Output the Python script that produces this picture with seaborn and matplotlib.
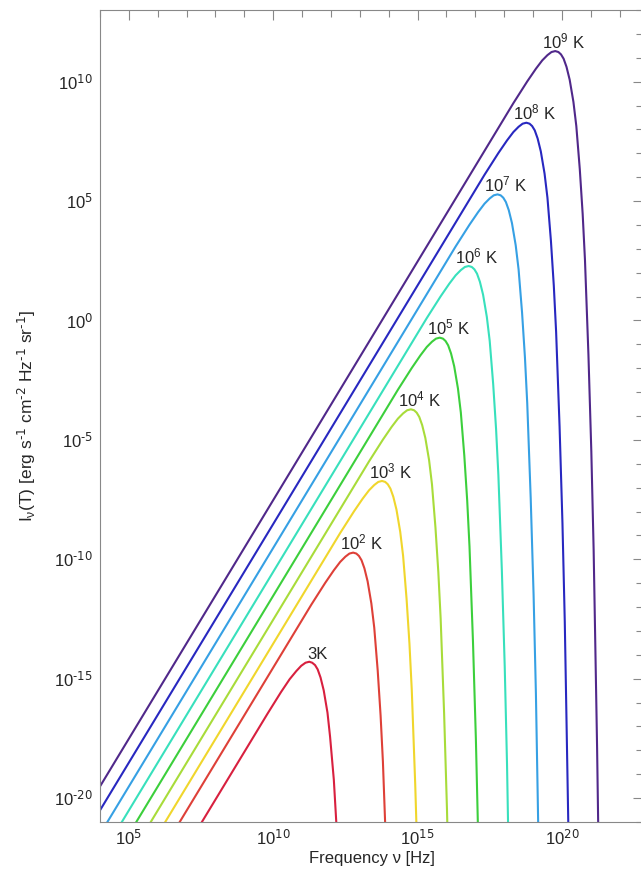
import numpy as np
import pandas as pd
import matplotlib
matplotlib.use("Agg")
import matplotlib.pyplot as plt
import seaborn as sns
from matplotlib.ticker import FixedLocator, NullFormatter

# curve labels and colours (coldest to hottest)
temp_labels = ["3K", "10$^2$ K", "10$^3$ K", "10$^4$ K", "10$^5$ K",
               "10$^6$ K", "10$^7$ K", "10$^8$ K", "10$^9$ K"]
curve_colors = ["#d8203f", "#de4038", "#f0d62c", "#a8dc3a", "#3ccf3c",
                "#38e0bc", "#36a0e4", "#2828c0", "#50288a"]

# axis tick exponents (labelled decades)
x_tick_exp = [5, 10, 15, 20]
y_tick_exp = [-20, -15, -10, -5, 0, 5, 10]

# log10 frequency [Hz] / log10 intensity
lg_nu_3 = [3.90, 9.80, 10.27, 10.57, 10.80, 10.97, 11.12, 11.25, 11.35, 11.45, 11.54,
           11.64, 11.75, 11.88, 11.97, 12.10, 12.19, 12.27]
lg_I_3 = [-28.24, -16.47, -15.56, -15.02, -14.68, -14.46, -14.33, -14.29, -14.33, -14.43,
          -14.61, -14.95, -15.49, -16.42, -17.43, -19.23, -21.11, -23.04]

lg_nu_1e2 = [3.90, 11.32, 11.80, 12.10, 12.32, 12.50, 12.64, 12.77, 12.88, 12.97, 13.06,
             13.16, 13.27, 13.40, 13.50, 13.62, 13.72, 13.80, 13.92]
lg_I_1e2 = [-26.71, -11.90, -10.99, -10.46, -10.11, -9.89, -9.76, -9.72, -9.76, -9.86,
            -10.04, -10.38, -10.92, -11.85, -12.86, -14.66, -16.54, -18.47, -22.44]

lg_nu_1e3 = [3.90, 12.32, 12.80, 13.10, 13.32, 13.50, 13.64, 13.77, 13.88, 13.97, 14.06,
             14.16, 14.27, 14.40, 14.50, 14.62, 14.72, 14.80, 14.92, 15.02]
lg_I_1e3 = [-25.71, -8.90, -7.99, -7.46, -7.11, -6.89, -6.76, -6.72, -6.76, -6.86,
            -7.04, -7.38, -7.92, -8.85, -9.86, -11.66, -13.54, -15.47, -19.44, -23.49]

lg_nu_1e4 = [3.90, 13.32, 13.80, 14.10, 14.32, 14.50, 14.64, 14.77, 14.88, 14.97, 15.06,
             15.16, 15.27, 15.40, 15.50, 15.62, 15.72, 15.80, 15.92, 16.02, 16.10]
lg_I_1e4 = [-24.71, -5.90, -4.99, -4.46, -4.11, -3.89, -3.76, -3.72, -3.76, -3.86,
            -4.04, -4.38, -4.92, -5.85, -6.86, -8.66, -10.54, -12.47, -16.44, -20.49, -24.60]

lg_nu_1e5 = [3.90, 14.32, 14.80, 15.10, 15.32, 15.50, 15.64, 15.77, 15.88, 15.97, 16.06,
             16.16, 16.27, 16.40, 16.50, 16.62, 16.72, 16.80, 16.92, 17.02, 17.10]
lg_I_1e5 = [-23.71, -2.90, -1.99, -1.46, -1.11, -0.89, -0.76, -0.72, -0.76, -0.86,
            -1.04, -1.38, -1.92, -2.85, -3.86, -5.66, -7.54, -9.47, -13.44, -17.49, -21.60]

lg_nu_1e6 = [3.90, 15.32, 15.80, 16.10, 16.32, 16.50, 16.64, 16.77, 16.88, 16.97, 17.06,
             17.16, 17.27, 17.40, 17.50, 17.62, 17.72, 17.80, 17.92, 18.02, 18.10, 18.16]
lg_I_1e6 = [-22.71, 0.10, 1.01, 1.54, 1.89, 2.11, 2.24, 2.28, 2.24, 2.14,
            1.96, 1.62, 1.08, 0.15, -0.86, -2.66, -4.54, -6.47, -10.44, -14.49, -18.60, -22.74]

lg_nu_1e7 = [3.90, 16.32, 16.80, 17.10, 17.32, 17.50, 17.64, 17.77, 17.88, 17.97, 18.06,
             18.16, 18.27, 18.40, 18.50, 18.62, 18.72, 18.80, 18.92, 19.02, 19.10, 19.16, 19.22]
lg_I_1e7 = [-21.71, 3.10, 4.01, 4.54, 4.89, 5.11, 5.24, 5.28, 5.24, 5.14,
            4.96, 4.62, 4.08, 3.15, 2.14, 0.34, -1.54, -3.47, -7.44, -11.49, -15.60, -19.74, -23.91]

lg_nu_1e8 = [3.90, 17.32, 17.80, 18.10, 18.32, 18.50, 18.64, 18.77, 18.88, 18.97, 19.06,
             19.16, 19.27, 19.40, 19.50, 19.62, 19.72, 19.80, 19.92, 20.02, 20.10, 20.16, 20.22, 20.27]
lg_I_1e8 = [-20.71, 6.10, 7.01, 7.54, 7.89, 8.11, 8.24, 8.28, 8.24, 8.14,
            7.96, 7.62, 7.08, 6.15, 5.14, 3.34, 1.46, -0.47, -4.44, -8.49, -12.60, -16.74, -20.91, -25.10]

lg_nu_1e9 = [3.90, 18.32, 18.80, 19.10, 19.32, 19.50, 19.64, 19.77, 19.88, 19.97, 20.06,
             20.16, 20.27, 20.40, 20.50, 20.62, 20.72, 20.80, 20.92, 21.02, 21.10, 21.16, 21.22, 21.27]
lg_I_1e9 = [-19.71, 9.10, 10.01, 10.54, 10.89, 11.11, 11.24, 11.28, 11.24, 11.14,
            10.96, 10.62, 10.08, 9.15, 8.14, 6.34, 4.46, 2.53, -1.44, -5.49, -9.60, -13.74, -17.91, -22.10]

curves = [(lg_nu_3, lg_I_3), (lg_nu_1e2, lg_I_1e2), (lg_nu_1e3, lg_I_1e3),
          (lg_nu_1e4, lg_I_1e4), (lg_nu_1e5, lg_I_1e5), (lg_nu_1e6, lg_I_1e6),
          (lg_nu_1e7, lg_I_1e7), (lg_nu_1e8, lg_I_1e8), (lg_nu_1e9, lg_I_1e9)]

frames = []
for lab, (nu, inten) in zip(temp_labels, curves):
    frames.append(pd.DataFrame({"freq": np.power(10.0, nu),
                                "intensity": np.power(10.0, inten),
                                "temp": lab}))
df = pd.concat(frames, ignore_index=True)

sns.set_style("white")
plt.rcParams["font.family"] = ["Liberation Sans", "DejaVu Sans"]
plt.rcParams["mathtext.default"] = "regular"
plt.rcParams["axes.unicode_minus"] = False

fig = plt.figure(figsize=(6.41, 8.74), dpi=100)
# right spine falls just outside the picture, as in the cropped original
ax = fig.add_axes([100 / 641, 1 - 822 / 874, 543 / 641, 812 / 874])
ax.set_xscale("log")
ax.set_yscale("log")

sns.lineplot(data=df, x="freq", y="intensity", hue="temp", palette=curve_colors,
             hue_order=temp_labels, sort=False, estimator=None, legend=False,
             linewidth=1.5, ax=ax)

ax.set_xlim(1e4, 10 ** 22.81)
ax.set_ylim(1e-21, 1e13)

# labels just above each peak
for lab, (nu, inten) in zip(temp_labels, curves):
    i = int(np.argmax(inten))
    ax.annotate(lab, (10.0 ** nu[i], 10.0 ** inten[i]), xytext=(6, 0),
                textcoords="offset points", ha="center", va="bottom", fontsize=12)


def exp_label(k):
    # plain hyphen for negative exponents, like the original
    return "10$^{\\text{%d}}$" % k


ax.set_xticks([10.0 ** k for k in x_tick_exp], labels=[exp_label(k) for k in x_tick_exp])
ax.set_yticks([10.0 ** k for k in y_tick_exp], labels=[exp_label(k) for k in y_tick_exp])
ax.xaxis.set_minor_locator(FixedLocator([10.0 ** k for k in range(4, 23)]))
ax.yaxis.set_minor_locator(FixedLocator([10.0 ** k for k in range(-21, 14)]))
ax.xaxis.set_minor_formatter(NullFormatter())
ax.yaxis.set_minor_formatter(NullFormatter())
ax.tick_params(which="both", direction="in", top=True, right=True, color="#888888",
               width=0.8, labelsize=12, pad=5)
ax.tick_params(which="major", length=7)
ax.tick_params(which="minor", length=5)
for sp in ax.spines.values():
    sp.set_color("#888888")
    sp.set_linewidth(0.8)

ax.set_xlabel("Frequency ν [Hz]", fontsize=12, labelpad=2)
ax.set_ylabel("I$_ν$(T) [erg s$^{\\text{-1}}$ cm$^{\\text{-2}}$ Hz$^{\\text{-1}}$ sr$^{\\text{-1}}$]",
              fontsize=12.5, labelpad=12)

fig.savefig("out.png", dpi=100)
